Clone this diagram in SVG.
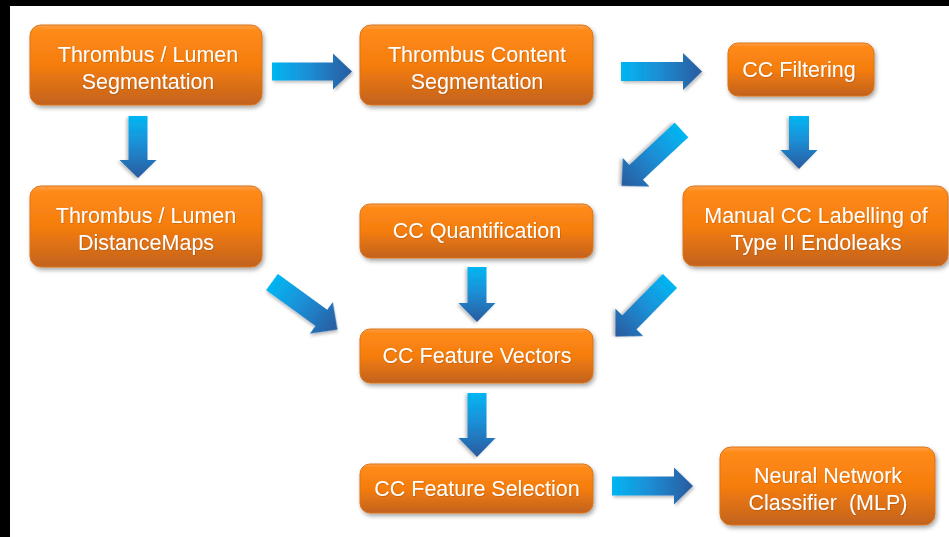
<svg xmlns="http://www.w3.org/2000/svg" width="949" height="537" viewBox="0 0 949 537">
  <style>
    .box { fill: url(#boxFill); stroke: #d9731a; stroke-width: 1; filter: url(#boxShadow); }
    .label { font-family: "Liberation Sans", Arial, sans-serif; font-size: 21.5px; fill: #ffffff; text-anchor: middle; filter: url(#textShadow); }
    .arrow { fill: url(#arrowFill); filter: url(#arrowShadow); }
  </style>
  <defs>
    <linearGradient id="boxFill" x1="0" y1="0" x2="0" y2="1">
      <stop offset="0" stop-color="#ffa24a"/>
      <stop offset="0.07" stop-color="#ff8a18"/>
      <stop offset="0.5" stop-color="#f57d0e"/>
      <stop offset="1" stop-color="#c2621e"/>
    </linearGradient>
    <linearGradient id="arrowFill" x1="0" y1="0" x2="1" y2="0">
      <stop offset="0" stop-color="#00b6f2"/>
      <stop offset="0.45" stop-color="#1c8fd6"/>
      <stop offset="1" stop-color="#2a5a9e"/>
    </linearGradient>
    <filter id="boxShadow" x="-10%" y="-20%" width="125%" height="150%">
      <feDropShadow dx="1.5" dy="2.5" stdDeviation="2" flood-color="#000000" flood-opacity="0.35"/>
    </filter>
    <filter id="arrowShadow" x="-20%" y="-30%" width="150%" height="170%">
      <feDropShadow dx="1.5" dy="2" stdDeviation="1.5" flood-color="#000000" flood-opacity="0.25"/>
    </filter>
    <filter id="textShadow" x="-5%" y="-20%" width="110%" height="150%">
      <feDropShadow dx="0.7" dy="0.7" stdDeviation="0.5" flood-color="#5a2a00" flood-opacity="0.3"/>
    </filter>
  </defs>

  <!-- page background with dark frame on top and left -->
  <rect x="0" y="0" width="949" height="537" fill="#000000"/>
  <rect x="10" y="6" width="939" height="531" fill="#ffffff"/>

  <!-- connectors: block arrows, drawn in local coords pointing along +x -->
  <g id="connectors">
    <path class="arrow" transform="translate(272,71.5)" d="M0,-9 H61 V-18 L80,0 L61,18 V9 H0 Z"/>
    <path class="arrow" transform="translate(621,71.5)" d="M0,-9.5 H62 V-18.5 L81,0 L62,18.5 V9.5 H0 Z"/>
    <path class="arrow" transform="translate(138,116) rotate(90)" d="M0,-9.5 H44 V-18.5 L62,0 L44,18.5 V9.5 H0 Z"/>
    <path class="arrow" transform="translate(799,116) rotate(90)" d="M0,-10 H34 V-18.5 L53,0 L34,18.5 V10 H0 Z"/>
    <path class="arrow" transform="translate(681.5,130) rotate(137)" d="M0,-10 H62 V-19.5 L82,0 L62,19.5 V10 H0 Z"/>
    <path class="arrow" transform="translate(272,282) rotate(36)" d="M0,-10 H61 V-19.5 L81,0 L61,19.5 V10 H0 Z"/>
    <path class="arrow" transform="translate(477,267) rotate(90)" d="M0,-9.5 H36 V-18.5 L55,0 L36,18.5 V9.5 H0 Z"/>
    <path class="arrow" transform="translate(670,281) rotate(134.5)" d="M0,-10 H58 V-19.5 L78,0 L58,19.5 V10 H0 Z"/>
    <path class="arrow" transform="translate(477,393) rotate(90)" d="M0,-9.5 H45 V-18.5 L64,0 L45,18.5 V9.5 H0 Z"/>
    <path class="arrow" transform="translate(612,486)" d="M0,-9.5 H62 V-18.5 L81,0 L62,18.5 V9.5 H0 Z"/>
  </g>

  <g id="seg">
    <rect class="box" x="30" y="25" width="232" height="80" rx="11"/>
    <text class="label" x="148" y="62">Thrombus / Lumen</text>
    <text class="label" x="148" y="89">Segmentation</text>
  </g>

  <g id="content-seg">
    <rect class="box" x="360" y="25" width="233" height="80" rx="11"/>
    <text class="label" x="477" y="62">Thrombus Content</text>
    <text class="label" x="477" y="89">Segmentation</text>
  </g>

  <g id="filtering">
    <rect class="box" x="728" y="43" width="146" height="53" rx="10"/>
    <text class="label" x="799" y="77">CC Filtering</text>
  </g>

  <g id="distance-maps">
    <rect class="box" x="30" y="186" width="232" height="81" rx="11"/>
    <text class="label" x="146" y="223">Thrombus / Lumen</text>
    <text class="label" x="146" y="250">DistanceMaps</text>
  </g>

  <g id="quantification">
    <rect class="box" x="360" y="204" width="233" height="54" rx="10"/>
    <text class="label" x="477" y="238">CC Quantification</text>
  </g>

  <g id="labelling">
    <rect class="box" x="683" y="186" width="265" height="80" rx="11"/>
    <text class="label" x="816" y="223">Manual CC Labelling of</text>
    <text class="label" x="816" y="250">Type II Endoleaks</text>
  </g>

  <g id="feature-vectors">
    <rect class="box" x="360" y="329" width="233" height="54" rx="10"/>
    <text class="label" x="477" y="363">CC Feature Vectors</text>
  </g>

  <g id="feature-selection">
    <rect class="box" x="360" y="464" width="233" height="49" rx="10"/>
    <text class="label" x="477" y="496">CC Feature Selection</text>
  </g>

  <g id="classifier">
    <rect class="box" x="720" y="447" width="215" height="78" rx="11"/>
    <text class="label" x="828" y="483">Neural Network</text>
    <text class="label" x="828" y="510" xml:space="preserve">Classifier  (MLP)</text>
  </g>
</svg>
